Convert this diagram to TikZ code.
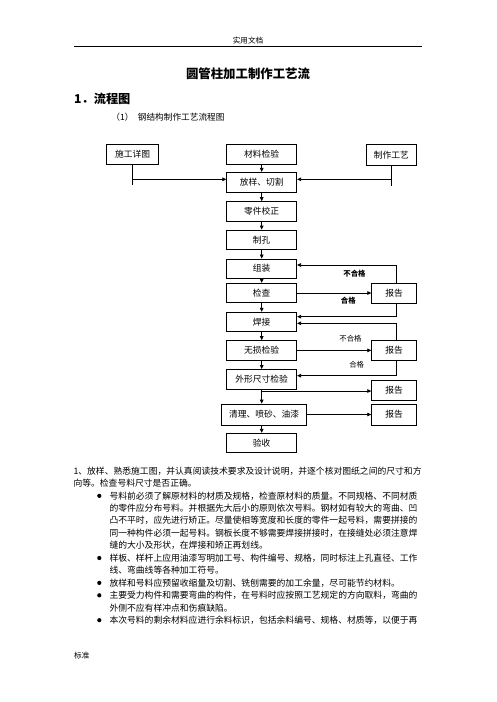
\documentclass[tikz,border=0pt]{standalone}
\usepackage{fontspec}
\setmainfont{Noto Sans CJK SC}
\usetikzlibrary{arrows.meta}
\newcommand\fsz[1]{\fontsize{#1}{#1}\selectfont}
\tikzset{
  box/.style={draw, line width=0.75pt, inner sep=0pt, minimum width=70pt, minimum height=19.5pt, font=\fsz{8.75}},
  rbox/.style={box, minimum width=45pt},
  arr/.style={line width=0.75pt, -{Triangle[length=4pt,width=3.6pt]}},
  ln/.style={line width=0.75pt},
  lbl/.style={inner sep=0pt, font=\fsz{7.4}},
  lblb/.style={inner sep=0pt, font=\fsz{7.4}\bfseries},
  body/.style={inner sep=0pt, anchor=west, font=\fsz{8.8}},
  dot/.style={fill=black}
}
\begin{document}
\begin{tikzpicture}[x=1pt,y=-1pt]
\useasboundingbox (0,0) rectangle (496,702);
% header
\node[inner sep=0pt, font=\fsz{7.6}] (hdr) at (248,40.7) {实用文档};
\draw[line width=1pt] (74,46) -- (421.7,46);
\node[inner sep=0pt, font=\fsz{12.4}\bfseries] (title) at (248,73.3) {圆管柱加工制作工艺流};
\node[inner sep=0pt, anchor=west, font=\fsz{12.2}\bfseries] (h1) at (74,99.3) {1．流程图};
\node[inner sep=0pt, font=\fsz{8.66}] (sub1) at (122.5,117.7) {（1）};
\node[inner sep=0pt, anchor=west, font=\fsz{8.66}] (sub2) at (137.7,117.7) {钢结构制作工艺流程图};
% flow chart
\node[box] (cl) at (261.7,154.5) {材料检验};
\node[box, minimum width=51.6pt] (sg) at (132.5,154.5) {施工详图};
\node[box, minimum width=50.7pt, minimum height=20.3pt] (zy) at (391.35,154.85) {制作工艺};
\node[box, minimum height=20pt] (fy) at (261.7,182.3) {放样、切割};
\node[box] (lj) at (261.7,211.35) {零件校正};
\node[box] (zk) at (261.7,239.75) {制孔};
\node[box] (zz) at (261.7,268.65) {组装};
\node[box] (jc) at (261.7,293) {检查};
\node[box] (hj) at (261.7,322) {焊接};
\node[box] (ws) at (261.7,350.35) {无损检验};
\node[box] (wx) at (261.7,379.15) {外形尺寸检验};
\node[box, minimum width=85pt, minimum height=21pt] (ql) at (264.2,414.5) {清理、喷砂、油漆};
\node[box] (ys) at (261.7,443) {验收};
\node[rbox, minimum height=20pt] (bg1) at (394.2,293.3) {报告};
\node[rbox] (bg2) at (394.2,350.35) {报告};
\node[rbox, minimum height=20pt] (bg3) at (394.2,390.7) {报告};
\node[rbox, minimum height=21pt] (bg4) at (394.2,414.5) {报告};
% inputs
\coordinate (sgend) at (132.5,185);
\coordinate (sgj) at (132.5,179.3);
\draw[ln] (sg.south) -- (sgend);
\draw[arr] (sgj) -- (sgj -| fy.west);
\coordinate (zyend) at (391.35,186);
\coordinate (zyj) at (391.35,179.3);
\draw[ln] (zy.south) -- (zyend);
\draw[arr] (zyj) -- (zyj -| fy.east);
% trunk
\draw[arr] (cl) -- (fy);
\draw[arr] (fy) -- (lj);
\draw[arr] (lj) -- (zk);
\draw[arr] (zk) -- (zz);
\draw[arr] (zz) -- (jc);
\draw[arr] (jc) -- (hj);
\draw[arr] (hj) -- (ws);
\draw[arr] (ws) -- (wx);
\draw[arr] (wx.south) -- (wx.south |- ql.north);
\draw[arr] (ys.north |- ql.south) -- (ys.north);
% to reports
\draw[arr] (jc.east) -- (bg1.west |- jc.east);
\draw[arr] (ws.east) -- (bg2.west |- ws.east);
\coordinate (br) at (261.7,391);
\draw[arr] (br) -- (br -| bg3.west);
\draw[arr] (ql.east) -- (bg4.west |- ql.east);
% feedback
\coordinate (r1t) at (396,265);
\coordinate (r1b) at (396,316.7);
\coordinate (r2t) at (396,323.3);
\coordinate (r2b) at (396,375.7);
\draw[arr] (bg1.north -| r1t) -- (r1t) -- (r1t -| zz.east);
\draw[arr] (bg1.south -| r1b) -- (r1b) -- (r1b -| hj.east);
\draw[arr] (bg2.north -| r2t) -- (r2t) -- (r2t -| hj.east);
\draw[arr] (bg2.south -| r2b) -- (r2b) -- (r2b -| wx.east);
% labels
\node[lblb] (l1) at (354.5,274) {不合格};
\node[lblb] (l2) at (348.3,300.7) {合格};
\node[lbl] (l3) at (350.5,338.3) {不合格};
\node[lbl] (l4) at (356.7,365) {合格};
% body text
\node[body] (t0) at (73.3,471) {1、放样、熟悉施工图，并认真阅读技术要求及设计说明，并逐个核对图纸之间的尺寸和方};
\node[body] (t1) at (73.3,483.43) {向等。检查号料尺寸是否正确。};
\node[body] (t2) at (109.3,495.86) {号料前必须了解原材料的材质及规格，检查原材料的质量。不同规格、不同材质};
\node[body] (t3) at (109.3,508.29) {的零件应分布号料。并根据先大后小的原则依次号料。钢材如有较大的弯曲、凹};
\node[body] (t4) at (109.3,520.72) {凸不平时，应先进行矫正。尽量使相等宽度和长度的零件一起号料，需要拼接的};
\node[body] (t5) at (109.3,533.15) {同一种构件必须一起号料。钢板长度不够需要焊接拼接时，在接缝处必须注意焊};
\node[body] (t6) at (109.3,545.58) {缝的大小及形状，在焊接和矫正再划线。};
\node[body] (t7) at (109.3,558.01) {样板、样杆上应用油漆写明加工号、构件编号、规格，同时标注上孔直径、工作};
\node[body] (t8) at (109.3,570.44) {线、弯曲线等各种加工符号。};
\node[body] (t9) at (109.3,582.87) {放样和号料应预留收缩量及切割、铣刨需要的加工余量，尽可能节约材料。};
\node[body] (t10) at (109.3,595.3) {主要受力构件和需要弯曲的构件，在号料时应按照工艺规定的方向取料，弯曲的};
\node[body] (t11) at (109.3,607.73) {外侧不应有样冲点和伤痕缺陷。};
\node[body] (t12) at (109.3,620.16) {本次号料的剩余材料应进行余料标识，包括余料编号、规格、材质等，以便于再};
% bullets
\fill[dot] (99.3,495.86) circle (2.1);
\fill[dot] (99.3,558.01) circle (2.1);
\fill[dot] (99.3,582.87) circle (2.1);
\fill[dot] (99.3,595.3) circle (2.1);
\fill[dot] (99.3,620.16) circle (2.1);
% footer
\node[inner sep=0pt, anchor=west, font=\fsz{7.6}] (ftr) at (74,655.7) {标准};
\end{tikzpicture}
\end{document}
